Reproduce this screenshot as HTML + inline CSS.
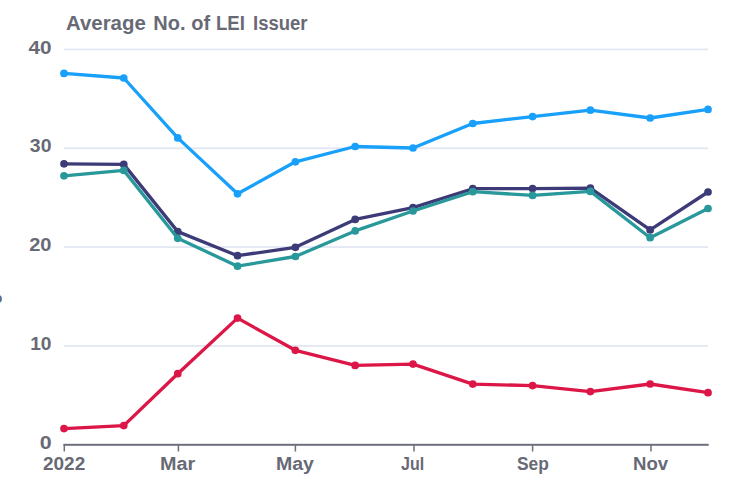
<!DOCTYPE html>
<html><head><meta charset="utf-8"><style>
html,body{margin:0;padding:0;background:#fff;}
body{width:750px;height:498px;overflow:hidden;position:relative;font-family:"Liberation Sans",sans-serif;}
svg{position:absolute;left:0;top:0;}
.t{position:absolute;color:#676a75;font-weight:bold;white-space:nowrap;line-height:1;}
.title{top:12.7px;font-size:20px;transform-origin:0 50%;}
.yl{font-size:17.5px;text-align:right;transform-origin:100% 50%;}
.xl{top:455.8px;font-size:17.5px;transform-origin:0 50%;}
.edge{left:-6.3px;top:290.6px;font-size:14px;color:#676a75;font-weight:bold;}
</style></head><body>
<svg width="750" height="498" viewBox="0 0 750 498">
<rect x="64" y="48.55" width="644" height="1.8" fill="#e3e7f3"/>
<rect x="64" y="147.40" width="644" height="1.8" fill="#e3e7f3"/>
<rect x="64" y="246.20" width="644" height="1.8" fill="#e3e7f3"/>
<rect x="64" y="345.00" width="644" height="1.8" fill="#e3e7f3"/>
<rect x="63.5" y="443.8" width="645.2" height="2" fill="#6d707c"/>
<rect x="63.55" y="444" width="1.5" height="7.5" fill="#6d707c"/>
<rect x="177.65" y="444" width="1.5" height="7.5" fill="#6d707c"/>
<rect x="294.65" y="444" width="1.5" height="7.5" fill="#6d707c"/>
<rect x="413.25" y="444" width="1.5" height="7.5" fill="#6d707c"/>
<rect x="531.85" y="444" width="1.5" height="7.5" fill="#6d707c"/>
<rect x="650.25" y="444" width="1.5" height="7.5" fill="#6d707c"/>
<polyline points="64.00,73.40 123.77,78.00 177.76,137.90 237.53,193.80 295.38,161.80 355.15,146.50 413.00,148.00 472.77,123.50 532.54,116.60 590.38,110.20 650.15,118.00 708.00,109.40" fill="none" stroke="#18a0fb" stroke-width="3.3" stroke-linejoin="round" stroke-linecap="round"/>
<circle cx="64.00" cy="73.40" r="3.85" fill="#18a0fb"/>
<circle cx="123.77" cy="78.00" r="3.85" fill="#18a0fb"/>
<circle cx="177.76" cy="137.90" r="3.85" fill="#18a0fb"/>
<circle cx="237.53" cy="193.80" r="3.85" fill="#18a0fb"/>
<circle cx="295.38" cy="161.80" r="3.85" fill="#18a0fb"/>
<circle cx="355.15" cy="146.50" r="3.85" fill="#18a0fb"/>
<circle cx="413.00" cy="148.00" r="3.85" fill="#18a0fb"/>
<circle cx="472.77" cy="123.50" r="3.85" fill="#18a0fb"/>
<circle cx="532.54" cy="116.60" r="3.85" fill="#18a0fb"/>
<circle cx="590.38" cy="110.20" r="3.85" fill="#18a0fb"/>
<circle cx="650.15" cy="118.00" r="3.85" fill="#18a0fb"/>
<circle cx="708.00" cy="109.40" r="3.85" fill="#18a0fb"/>
<polyline points="64.00,163.80 123.77,164.40 177.76,231.60 237.53,255.70 295.38,247.30 355.15,219.40 413.00,207.60 472.77,188.70 532.54,188.60 590.38,188.20 650.15,229.90 708.00,192.00" fill="none" stroke="#3d3a78" stroke-width="3.3" stroke-linejoin="round" stroke-linecap="round"/>
<circle cx="64.00" cy="163.80" r="3.85" fill="#3d3a78"/>
<circle cx="123.77" cy="164.40" r="3.85" fill="#3d3a78"/>
<circle cx="177.76" cy="231.60" r="3.85" fill="#3d3a78"/>
<circle cx="237.53" cy="255.70" r="3.85" fill="#3d3a78"/>
<circle cx="295.38" cy="247.30" r="3.85" fill="#3d3a78"/>
<circle cx="355.15" cy="219.40" r="3.85" fill="#3d3a78"/>
<circle cx="413.00" cy="207.60" r="3.85" fill="#3d3a78"/>
<circle cx="472.77" cy="188.70" r="3.85" fill="#3d3a78"/>
<circle cx="532.54" cy="188.60" r="3.85" fill="#3d3a78"/>
<circle cx="590.38" cy="188.20" r="3.85" fill="#3d3a78"/>
<circle cx="650.15" cy="229.90" r="3.85" fill="#3d3a78"/>
<circle cx="708.00" cy="192.00" r="3.85" fill="#3d3a78"/>
<polyline points="64.00,175.80 123.77,170.40 177.76,238.30 237.53,266.20 295.38,256.50 355.15,230.90 413.00,211.00 472.77,191.70 532.54,195.40 590.38,191.40 650.15,237.70 708.00,208.50" fill="none" stroke="#28989b" stroke-width="3.3" stroke-linejoin="round" stroke-linecap="round"/>
<circle cx="64.00" cy="175.80" r="3.85" fill="#28989b"/>
<circle cx="123.77" cy="170.40" r="3.85" fill="#28989b"/>
<circle cx="177.76" cy="238.30" r="3.85" fill="#28989b"/>
<circle cx="237.53" cy="266.20" r="3.85" fill="#28989b"/>
<circle cx="295.38" cy="256.50" r="3.85" fill="#28989b"/>
<circle cx="355.15" cy="230.90" r="3.85" fill="#28989b"/>
<circle cx="413.00" cy="211.00" r="3.85" fill="#28989b"/>
<circle cx="472.77" cy="191.70" r="3.85" fill="#28989b"/>
<circle cx="532.54" cy="195.40" r="3.85" fill="#28989b"/>
<circle cx="590.38" cy="191.40" r="3.85" fill="#28989b"/>
<circle cx="650.15" cy="237.70" r="3.85" fill="#28989b"/>
<circle cx="708.00" cy="208.50" r="3.85" fill="#28989b"/>
<polyline points="64.00,428.60 123.77,425.60 177.76,373.70 237.53,318.10 295.38,350.30 355.15,365.40 413.00,364.10 472.77,384.10 532.54,385.60 590.38,391.60 650.15,384.00 708.00,392.70" fill="none" stroke="#dc1646" stroke-width="3.3" stroke-linejoin="round" stroke-linecap="round"/>
<circle cx="64.00" cy="428.60" r="3.85" fill="#dc1646"/>
<circle cx="123.77" cy="425.60" r="3.85" fill="#dc1646"/>
<circle cx="177.76" cy="373.70" r="3.85" fill="#dc1646"/>
<circle cx="237.53" cy="318.10" r="3.85" fill="#dc1646"/>
<circle cx="295.38" cy="350.30" r="3.85" fill="#dc1646"/>
<circle cx="355.15" cy="365.40" r="3.85" fill="#dc1646"/>
<circle cx="413.00" cy="364.10" r="3.85" fill="#dc1646"/>
<circle cx="472.77" cy="384.10" r="3.85" fill="#dc1646"/>
<circle cx="532.54" cy="385.60" r="3.85" fill="#dc1646"/>
<circle cx="590.38" cy="391.60" r="3.85" fill="#dc1646"/>
<circle cx="650.15" cy="384.00" r="3.85" fill="#dc1646"/>
<circle cx="708.00" cy="392.70" r="3.85" fill="#dc1646"/>
</svg>
<div class="t title" style="left:66px;transform:scaleX(1.02)">Average</div>
<div class="t title" style="left:153.3px">No.</div>
<div class="t title" style="left:191.3px">of</div>
<div class="t title" style="left:216.4px;transform:scaleX(0.93)">LEI</div>
<div class="t title" style="left:252.7px;transform:scaleX(0.925)">Issuer</div>
<div class="t yl" style="top:39.5px;right:698.15px;transform:scaleX(1.184)">40</div>
<div class="t yl" style="top:138.3px;right:698.6px;transform:scaleX(1.11)">30</div>
<div class="t yl" style="top:237.1px;right:698.15px;transform:scaleX(1.147)">20</div>
<div class="t yl" style="top:335.9px;right:698.15px;transform:scaleX(1.094)">10</div>
<div class="t yl" style="top:434.7px;right:698.0px;transform:scaleX(1.22)">0</div>
<div class="t xl" style="left:42.9px;transform:scaleX(1.085)">2022</div>
<div class="t xl" style="left:159.97px;transform:scaleX(1.13)">Mar</div>
<div class="t xl" style="left:276.2px;transform:scaleX(1.115)">May</div>
<div class="t xl" style="left:401.3px;transform:scaleX(0.916)">Jul</div>
<div class="t xl" style="left:516.7px;transform:scaleX(0.99)">Sep</div>
<div class="t xl" style="left:632.6px;transform:scaleX(1.0625)">Nov</div>
<div class="t edge">o</div>
</body></html>
